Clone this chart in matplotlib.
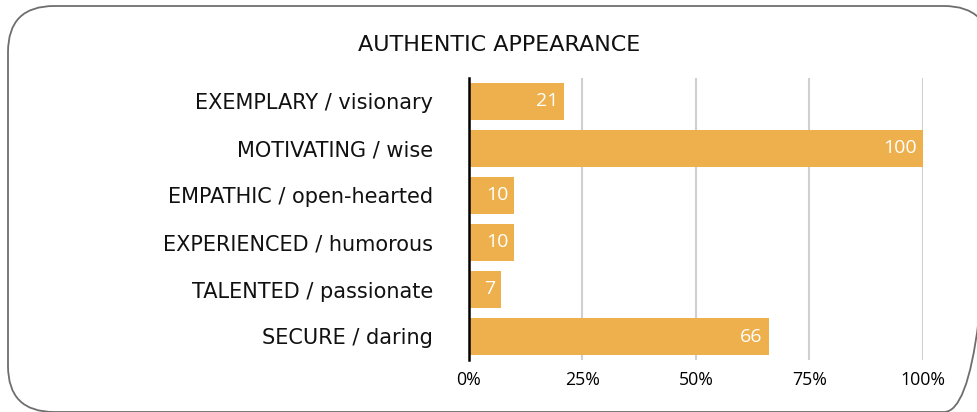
import matplotlib
matplotlib.use("Agg")
import matplotlib.pyplot as plt
from matplotlib.patches import FancyBboxPatch
from matplotlib.ticker import FuncFormatter

title = "AUTHENTIC APPEARANCE"
categories = ["EXEMPLARY / visionary", "MOTIVATING / wise", "EMPATHIC / open-hearted",
              "EXPERIENCED / humorous", "TALENTED / passionate", "SECURE / daring"]
values = [21, 100, 10, 10, 7, 66]
x_ticks = [0, 25, 50, 75, 100]

bar_color = "#EDB04D"

fig = plt.figure(figsize=(9.78, 4.12), dpi=100)

# rounded frame drawn in pixel units, partly cut off by the image edges
bg = fig.add_axes([0, 0, 1, 1])
bg.set_xlim(0, 978)
bg.set_ylim(412, 0)
bg.axis("off")
frame = FancyBboxPatch((8, 6), 982, 406,
                       boxstyle="round,pad=0,rounding_size=46",
                       facecolor="none", edgecolor="#6e6e6e", linewidth=1.3)
bg.add_patch(frame)

ax = fig.add_axes([469 / 978, 52 / 412, 454 / 978, 282 / 412])
y = list(range(len(categories)))
ax.barh(y, values, height=0.79, color=bar_color, zorder=2)
ax.set_ylim(len(categories) - 0.5, -0.5)
ax.set_xlim(0, 100)

for yi, v in zip(y, values):
    ax.annotate(str(v), (v, yi), xytext=(-6, 0), textcoords="offset pixels",
                ha="right", va="center", color="white",
                fontsize=14, family="Open Sans", zorder=3)

ax.set_yticks(y)
ax.set_yticklabels(categories, fontsize=15, family="DejaVu Sans", color="#111111")
ax.set_xticks(x_ticks)
ax.xaxis.set_major_formatter(FuncFormatter(lambda v, p: f"{int(v)}%"))
for lbl in ax.get_xticklabels():
    lbl.set_family("Open Sans")
    lbl.set_fontsize(12.8)
ax.tick_params(axis="both", length=0)
ax.tick_params(axis="y", pad=26)
ax.tick_params(axis="x", pad=8)

ax.grid(axis="x", color="#d0d0d0", linewidth=1.5, zorder=0)
ax.set_axisbelow(True)
for s in ["top", "right", "bottom"]:
    ax.spines[s].set_visible(False)
ax.spines["left"].set_color("black")
ax.spines["left"].set_linewidth(1.8)
ax.spines["left"].set_zorder(4)

fig.text(499 / 978, 1 - 45 / 412, title, ha="center", va="center",
         fontsize=16, family="DejaVu Sans", color="#111111")

fig.savefig("out.png", dpi=100)
